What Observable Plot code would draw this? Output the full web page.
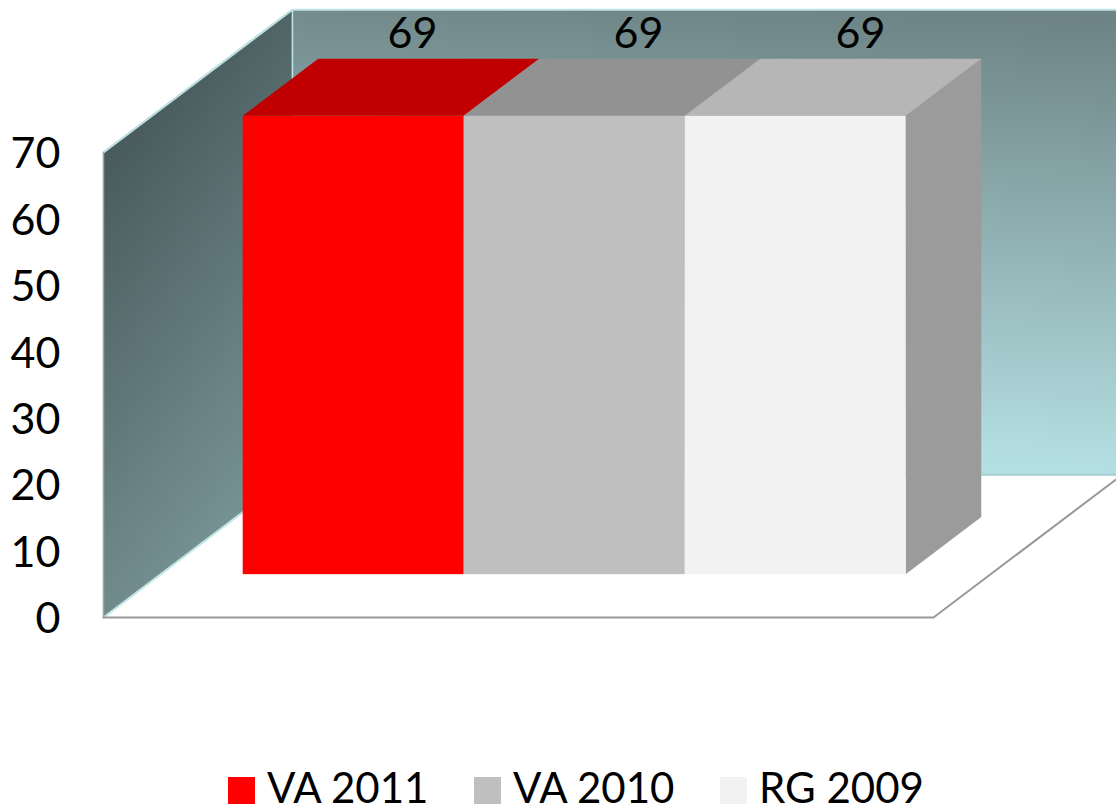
<!DOCTYPE html>
<html><head><meta charset="utf-8">
<script src="https://cdn.jsdelivr.net/npm/d3@7"></script>
<script src="https://cdn.jsdelivr.net/npm/@observablehq/plot@0.6"></script>
<style>
html,body{margin:0;padding:0;background:#fff;overflow:hidden}
#legend{position:relative;height:45px;font-family:Lato,sans-serif;font-size:42px;line-height:44px;color:#000}
#legend span{position:absolute;top:0;white-space:nowrap}
#legend i{position:absolute;top:12px;width:27px;height:27px}
</style></head><body>
<div id="chart"></div><div id="legend"></div>
<script>
const categories = ["VA 2011", "VA 2010", "RG 2009"];
const values = [69, 69, 69];
const frontColors = ["#ff0000", "#bfbfbf", "#f2f2f2"];
const topColors = ["#c00000", "#929292", "#b6b6b6"];
const sideColor = "#9b9b9b";
const yTicks = [0, 10, 20, 30, 40, 50, 60, 70];

// oblique projection, in data units per unit of depth
const depthX = 0.855, depthY = 21.5;
const wallLeft = -0.3756, floorRight = 3.38;
const barFront = 0.3, barBack = 0.7;

const marks = [
  () => {
    const defs = d3.create("svg:defs");
    const g1 = defs.append("linearGradient").attr("id", "backWall").attr("x1", 0.8).attr("y1", 0).attr("x2", 0.7).attr("y2", 1);
    g1.append("stop").attr("offset", 0).attr("stop-color", "#6d8385");
    g1.append("stop").attr("offset", 1).attr("stop-color", "#b7e3e6");
    const g2 = defs.append("linearGradient").attr("id", "leftWall").attr("x1", 0.1).attr("y1", 0.1).attr("x2", 0.45).attr("y2", 1);
    g2.append("stop").attr("offset", 0).attr("stop-color", "#435455");
    g2.append("stop").attr("offset", 1).attr("stop-color", "#7a9698");
    return defs.node();
  },
  Plot.rect([{}], {x1: wallLeft + depthX, x2: floorRight + depthX, y1: depthY, y2: 70 + depthY, fill: "url(#backWall)"}),
  Plot.areaY([{x: wallLeft, a: 0, b: 70}, {x: wallLeft + depthX, a: depthY, b: 70 + depthY}],
    {x: "x", y1: "a", y2: "b", fill: "url(#leftWall)", curve: "linear"}),
  // wall and floor edges
  Plot.line([[wallLeft, 70], [wallLeft + depthX, 70 + depthY], [floorRight + depthX, 70 + depthY]], {stroke: "#bfe3e6", strokeWidth: 2}),
  Plot.line([[wallLeft + depthX, depthY], [wallLeft + depthX, 70 + depthY]], {stroke: "#bfe3e6", strokeWidth: 1.5}),
  Plot.line([[wallLeft, 0], [wallLeft + depthX, depthY]], {stroke: "#bfe3e6", strokeWidth: 2}),
  Plot.line([[wallLeft + depthX, depthY], [floorRight + depthX, depthY]], {stroke: "#a5cdd0", strokeWidth: 2}),
  Plot.line([[wallLeft, 0], [wallLeft, 70]], {stroke: "#9aa6a8", strokeWidth: 1.5}),
  Plot.line([[wallLeft, 0], [floorRight, 0], [floorRight + depthX, depthY]], {stroke: "#999999", strokeWidth: 2})
];

categories.forEach((c, i) => {
  const v = values[i];
  const fx = barFront * depthX, fy = barFront * depthY;
  const bx = barBack * depthX, by = barBack * depthY;
  // side face
  marks.push(Plot.areaY([{x: i + 1 + fx, a: fy, b: v + fy}, {x: i + 1 + bx, a: by, b: v + by}],
    {x: "x", y1: "a", y2: "b", fill: sideColor, curve: "linear"}));
  // top face
  marks.push(Plot.areaX([{y: v + fy, a: i + fx, b: i + 1 + fx}, {y: v + by, a: i + bx, b: i + 1 + bx}],
    {y: "y", x1: "a", x2: "b", fill: topColors[i], curve: "linear"}));
  // front face
  marks.push(Plot.rect([{}], {x1: i + fx, x2: i + 1 + fx, y1: fy, y2: v + fy, fill: frontColors[i]}));
});

const labelShift = [0.095, 0.118, 0.122];
marks.push(Plot.text(categories.map((c, i) => ({x: i + 0.5 + 0.5 * depthX + labelShift[i], y: values[i] + 0.5 * depthY, t: String(values[i])})),
  {x: "x", y: "y", text: "t", dy: -53, fontSize: 43, fill: "#000"}));
marks.push(Plot.axisY({ticks: yTicks, tickSize: 0, tickPadding: 0, fontSize: 43, dy: 2, label: null, color: "#000"}));

const plot = Plot.plot({
  width: 1116, height: 765,
  marginLeft: 60, marginTop: 0, marginRight: 0, marginBottom: 0,
  style: {fontFamily: "Lato, sans-serif", background: "#fff", overflow: "hidden"},
  x: {domain: [0, 3], range: [186, 849], axis: null},
  y: {domain: [0, 70], range: [617, 152]},
  marks
});
document.getElementById("chart").appendChild(plot);
plot.style.display = "block";

const swatchX = [228, 474, 720];
const leg = document.getElementById("legend");
categories.forEach((c, i) => {
  const s = document.createElement("i");
  s.style.left = swatchX[i] + "px"; s.style.background = frontColors[i];
  const t = document.createElement("span");
  t.style.left = (swatchX[i] + 39) + "px"; t.textContent = c;
  leg.append(s, t);
});
</script></body></html>
